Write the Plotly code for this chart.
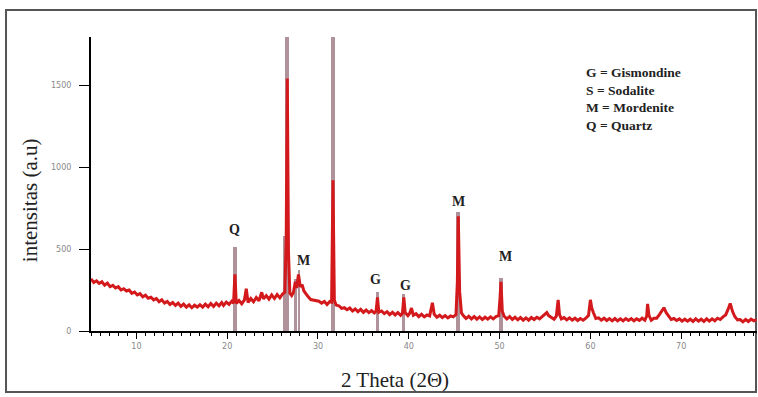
import plotly.graph_objects as go

two_theta = [
    5.0, 5.3, 5.6, 5.9, 6.2, 6.5, 6.8, 7.1, 7.4, 7.7, 8.0, 8.3, 8.6, 8.9, 9.2, 9.5, 9.8,
    10.1, 10.4, 10.7, 11.0, 11.3, 11.6, 11.9, 12.2, 12.5, 12.8, 13.1, 13.4, 13.7, 14.0,
    14.3, 14.6, 14.9, 15.2, 15.5, 15.8, 16.1, 16.4, 16.7, 17.0, 17.3, 17.6, 17.9, 18.2,
    18.5, 18.8, 19.1, 19.4, 19.6, 19.9, 20.2, 20.5, 20.7, 20.85, 21.0, 21.3, 21.6, 21.9,
    22.1, 22.3, 22.6, 22.9, 23.2, 23.5, 23.8, 24.0, 24.3, 24.6, 24.9, 25.2, 25.5, 25.8,
    26.1, 26.35, 26.5, 26.62, 26.75, 26.9, 27.1, 27.3, 27.5, 27.65, 27.85, 28.05, 28.25,
    28.45, 28.7, 28.9, 29.2, 29.5, 29.8, 30.1, 30.4, 30.7, 31.0, 31.3, 31.5, 31.65, 31.8,
    32.0, 32.3, 32.6, 32.9, 33.2, 33.5, 33.8, 34.1, 34.4, 34.7, 35.0, 35.3, 35.6, 35.9,
    36.2, 36.4, 36.55, 36.7, 37.0, 37.3, 37.6, 37.9, 38.2, 38.5, 38.8, 39.1, 39.3, 39.45,
    39.6, 39.9, 40.1, 40.3, 40.5, 40.8, 41.1, 41.4, 41.7, 42.0, 42.3, 42.6, 42.8, 43.1,
    43.4, 43.7, 44.0, 44.3, 44.6, 44.9, 45.2, 45.35, 45.45, 45.6, 45.8, 46.0, 46.3, 46.6,
    46.9, 47.2, 47.5, 47.8, 48.1, 48.4, 48.7, 49.0, 49.3, 49.6, 49.9, 50.05, 50.15, 50.3,
    50.5, 50.8, 51.1, 51.4, 51.7, 52.0, 52.3, 52.6, 52.9, 53.2, 53.5, 53.8, 54.1, 54.4,
    54.7, 55.0, 55.2, 55.4, 55.7, 56.0, 56.25, 56.45, 56.6, 56.8, 57.1, 57.4, 57.7, 58.0,
    58.3, 58.6, 58.9, 59.2, 59.5, 59.8, 60.0, 60.15, 60.35, 60.6, 60.9, 61.2, 61.5, 61.8,
    62.1, 62.4, 62.7, 63.0, 63.3, 63.6, 63.9, 64.2, 64.5, 64.8, 65.1, 65.4, 65.7, 66.0,
    66.2, 66.3, 66.45, 66.7, 67.0, 67.3, 67.6, 67.85, 68.1, 68.35, 68.6, 68.9, 69.2, 69.5,
    69.8, 70.1, 70.4, 70.7, 71.0, 71.3, 71.6, 71.9, 72.2, 72.5, 72.8, 73.1, 73.4, 73.7,
    74.0, 74.3, 74.6, 74.9, 75.15, 75.4, 75.65, 75.9, 76.2, 76.5, 76.8, 77.1, 77.4, 77.7,
    78.0, 78.3,
]
intensity = [
    318, 296, 306, 290, 300, 280, 292, 270, 278, 262, 270, 250, 258, 244, 250, 230, 238,
    220, 228, 208, 218, 200, 206, 190, 198, 178, 190, 170, 180, 162, 174,
    156, 170, 150, 164, 146, 160, 142, 158, 146, 160, 146, 164, 148, 168,
    150, 170, 154, 174, 156, 176, 162, 182, 170, 345, 168, 186, 166, 190,
    258, 174, 198, 178, 204, 184, 236, 196, 216, 194, 220, 198, 222, 202,
    226, 236, 560, 1540, 480, 230, 216, 236, 300, 262, 345, 270, 282,
    244, 222, 210, 192, 190, 184, 182, 170, 180, 162, 180, 176, 920, 188,
    158, 154, 138, 142, 130, 140, 122, 134, 118, 132, 114, 128, 112, 124,
    110, 122, 205, 114, 122, 106, 118, 100, 114, 98, 112, 96, 108, 205,
    112, 94, 108, 140, 96, 106, 88, 102, 86, 98, 92, 172, 102, 84,
    96, 82, 94, 80, 92, 86, 100, 300, 700, 240, 110, 94, 76, 90,
    74, 88, 72, 86, 70, 84, 72, 86, 74, 88, 94, 200, 300, 120,
    90, 74, 88, 70, 84, 68, 82, 66, 80, 66, 82, 70, 84, 74,
    90, 100, 112, 94, 84, 72, 90, 190, 100, 74, 82, 68, 80, 66,
    78, 64, 76, 66, 78, 96, 190, 140, 110, 76, 80, 66, 78, 64,
    76, 62, 76, 62, 74, 62, 76, 64, 76, 62, 74, 64, 78, 66,
    90, 165, 95, 66, 78, 78, 100, 125, 142, 112, 90, 70, 76, 64,
    74, 60, 72, 60, 72, 58, 74, 60, 72, 58, 74, 60, 74, 62,
    78, 70, 86, 98, 130, 168, 120, 88, 68, 70, 56, 70, 58, 72,
    62, 70,
]

# reference (stick) lines
stick_pos = [20.85, 26.45, 26.62, 27.5, 27.9, 31.65, 36.55, 39.45, 45.45, 50.15]
stick_height = [510, 580, 1790, 320, 372, 1790, 236, 226, 726, 322]
stick_width = [0.35, 0.6, 0.45, 0.3, 0.3, 0.4, 0.3, 0.3, 0.4, 0.35]

# phase labels above peaks
label_text = ["G", "S", "Q", "M", "G", "G", "M", "M"]
label_x = [26.55, 31.6, 20.85, 28.45, 36.3, 39.6, 45.5, 50.7]
label_y = [1805, 1825, 560, 370, 255, 218, 730, 395]

legend_lines = ["G = Gismondine", "S = Sodalite", "M = Mordenite", "Q = Quartz"]

fig = go.Figure()
fig.add_trace(go.Bar(
    x=stick_pos, y=stick_height, width=stick_width,
    marker=dict(color="#b0939a", line=dict(width=0)),
    hoverinfo="skip",
))
fig.add_trace(go.Scatter(
    x=two_theta, y=intensity, mode="lines",
    line=dict(color="#d3191c", width=3),
))

serif = "Liberation Serif, Times New Roman, serif"
for t, xv, yv in zip(label_text, label_x, label_y):
    fig.add_annotation(x=xv, y=yv, text="<b>%s</b>" % t, showarrow=False,
                       xanchor="center", yanchor="bottom",
                       font=dict(family=serif, size=14, color="#222222"))

fig.add_annotation(x=59.3, y=1635, xref="x", yref="y",
                   text="<br>".join("<b>%s</b>" % s for s in legend_lines),
                   showarrow=False, xanchor="left", yanchor="top", align="left",
                   font=dict(family=serif, size=13.5, color="#222222"))

# axis titles
fig.add_annotation(x=-0.0916, y=0.445, xref="paper", yref="paper",
                   text="intensitas (a.u)", textangle=-90, showarrow=False,
                   xanchor="center", yanchor="middle",
                   font=dict(family=serif, size=21, color="#222222"))
fig.add_annotation(x=0.456, y=-0.1667, xref="paper", yref="paper",
                   text="2 Theta (2Θ)", showarrow=False,
                   xanchor="center", yanchor="middle",
                   font=dict(family=serif, size=21, color="#222222"))

# outer frame
fig.add_shape(type="rect", xref="paper", yref="paper",
              x0=-0.1276, x1=0.9985, y0=-0.2075, y1=1.0918,
              line=dict(color="#555555", width=2), layer="below")

fig.update_layout(
    width=758, height=397,
    margin=dict(l=91, r=1, t=37, b=66),
    plot_bgcolor="white", paper_bgcolor="white",
    showlegend=False, bargap=0,
)
fig.update_xaxes(
    range=[5, 78.35], showline=True, linecolor="black", linewidth=2,
    ticks="outside", ticklen=6, tickwidth=1, tickcolor="black",
    tick0=0, dtick=10, showgrid=False, zeroline=False,
    tickfont=dict(family="DejaVu Sans", size=8, color="#888888"),
    minor=dict(ticks="outside", ticklen=3, dtick=1, tickcolor="black", showgrid=False),
)
fig.update_yaxes(
    range=[0, 1793], showline=True, linecolor="black", linewidth=2,
    ticks="outside", ticklen=10, tickwidth=1, tickcolor="black",
    tickvals=[0, 500, 1000, 1500], showgrid=False, zeroline=False,
    ticklabelstandoff=6,
    tickfont=dict(family="DejaVu Sans", size=8, color="#888888"),
)

fig.write_html(
    "out.html",
    config={"displayModeBar": False},
    post_script="document.body.style.margin='0';document.body.style.overflow='hidden';",
)
